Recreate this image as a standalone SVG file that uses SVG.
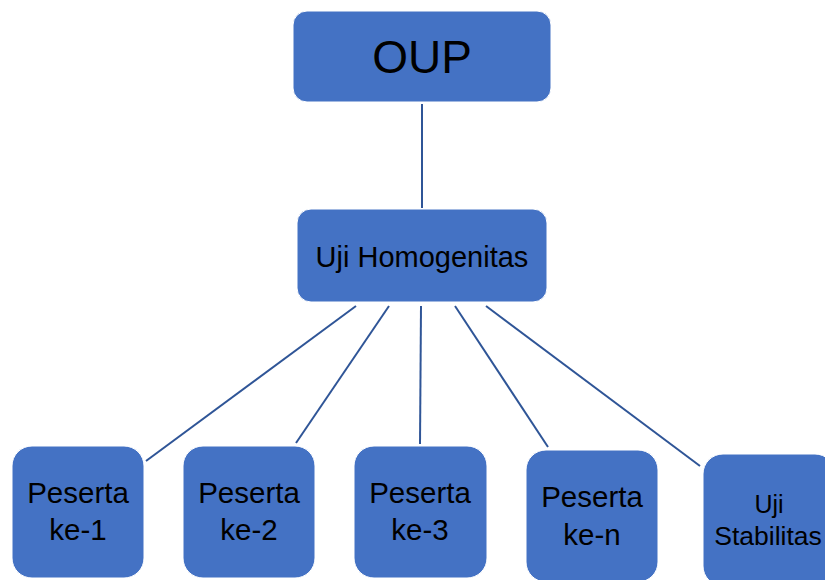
<svg xmlns="http://www.w3.org/2000/svg" width="825" height="580" viewBox="0 0 825 580">
<style>
.box{fill:#4472C4;stroke:#ffffff;stroke-width:1}
.t{font-family:"Liberation Sans",Arial,sans-serif;fill:#000;text-anchor:middle}
.p{font-size:29.5px}
.c{stroke:#2F5597;stroke-width:2;fill:none}
</style>
<rect width="825" height="580" fill="#ffffff"/>
<g id="connectors">
<line class="c" x1="422" y1="104" x2="422" y2="208"/>
<line class="c" x1="356" y1="306" x2="146" y2="461"/>
<line class="c" x1="389" y1="306" x2="296" y2="443"/>
<line class="c" x1="421" y1="306" x2="420" y2="444"/>
<line class="c" x1="455" y1="306" x2="548" y2="447"/>
<line class="c" x1="486" y1="306" x2="700" y2="466"/>
</g>
<g id="oup">
<rect class="box" x="293" y="11" width="258" height="91" rx="14"/>
<text class="t" x="422" y="73" font-size="46">OUP</text>
</g>
<g id="uji-homogenitas">
<rect class="box" x="297" y="209" width="250" height="93" rx="14"/>
<text class="t" x="422" y="267" font-size="29">Uji Homogenitas</text>
</g>
<g id="peserta-1">
<rect class="box" x="12" y="446" width="132" height="132" rx="20"/>
<text class="t p" x="78" y="503">Peserta</text>
<text class="t p" x="78" y="540">ke-1</text>
</g>
<g id="peserta-2">
<rect class="box" x="183" y="446" width="132" height="132" rx="20"/>
<text class="t p" x="249" y="503">Peserta</text>
<text class="t p" x="249" y="540">ke-2</text>
</g>
<g id="peserta-3">
<rect class="box" x="354" y="446" width="133" height="132" rx="20"/>
<text class="t p" x="420" y="503">Peserta</text>
<text class="t p" x="420" y="540">ke-3</text>
</g>
<g id="peserta-n">
<rect class="box" x="526" y="450" width="132" height="132" rx="20"/>
<text class="t p" x="592" y="507">Peserta</text>
<text class="t p" x="592" y="545">ke-n</text>
</g>
<g id="uji-stabilitas">
<rect class="box" x="703" y="454" width="132" height="132" rx="20"/>
<text class="t" x="769" y="513" font-size="25">Uji</text>
<text class="t" x="768" y="545" font-size="26.5">Stabilitas</text>
</g>
</svg>
